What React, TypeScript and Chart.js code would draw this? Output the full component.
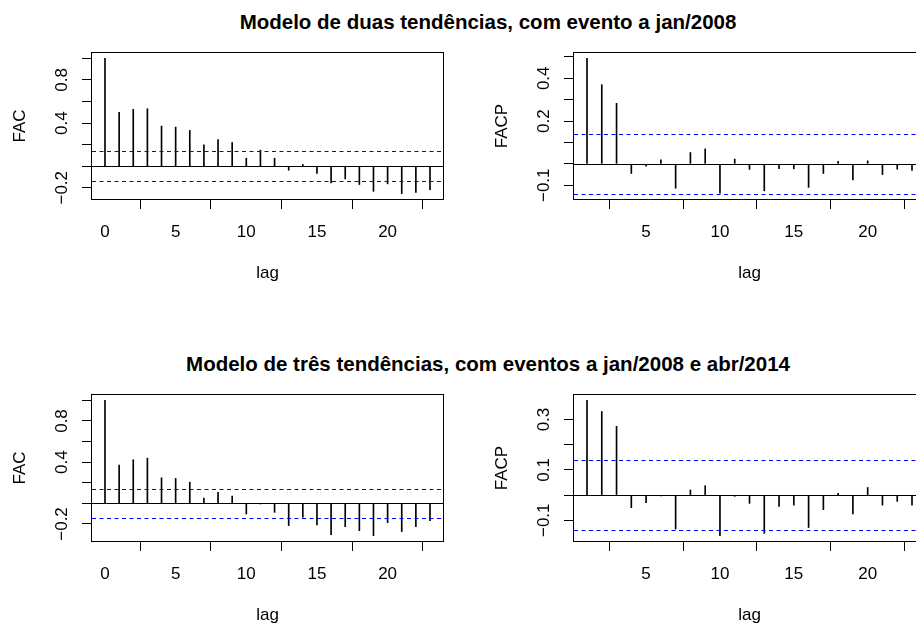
import React, { useEffect, useRef } from 'react';
import { Chart, registerables } from 'chart.js';

Chart.register(...registerables);

// ---------------- data ----------------
const lagsACF = [0, 1, 2, 3, 4, 5, 6, 7, 8, 9, 10, 11, 12, 13, 14, 15, 16, 17, 18, 19, 20, 21, 22, 23];
const lagsPACF = [1, 2, 3, 4, 5, 6, 7, 8, 9, 10, 11, 12, 13, 14, 15, 16, 17, 18, 19, 20, 21, 22, 23];

const acfDuas = [1.0, 0.5, 0.527, 0.533, 0.372, 0.363, 0.332, 0.198, 0.248, 0.22, 0.074, 0.149, 0.074, -0.037, 0.016, -0.068, -0.155, -0.118, -0.17, -0.233, -0.164, -0.254, -0.242, -0.217];
const pacfDuas = [0.493, 0.37, 0.283, -0.045, -0.011, 0.019, -0.114, 0.053, 0.07, -0.137, 0.022, -0.026, -0.126, -0.023, -0.023, -0.11, -0.045, 0.012, -0.075, 0.014, -0.05, -0.025, -0.031];
const acfTres = [1.0, 0.371, 0.423, 0.439, 0.248, 0.242, 0.206, 0.052, 0.106, 0.071, -0.103, -0.006, -0.087, -0.216, -0.135, -0.21, -0.303, -0.226, -0.265, -0.313, -0.187, -0.274, -0.226, -0.168];
const pacfTres = [0.376, 0.332, 0.273, -0.05, -0.03, -0.003, -0.135, 0.02, 0.037, -0.161, -0.005, -0.033, -0.152, -0.045, -0.04, -0.129, -0.058, 0.007, -0.075, 0.03, -0.04, -0.025, -0.04];

const ciDuas = 0.139;
const ciTres = 0.139;

const xTicksACF = [0, 5, 10, 15, 20];
const xTicksPACF = [5, 10, 15, 20];

const yTicksACF = [-0.2, 0, 0.2, 0.4, 0.6, 0.8, 1.0];
const yLabelsACF = ['\u22120.2', '', '', '0.4', '', '0.8', ''];
const yTicksPACFDuas = [-0.1, 0, 0.1, 0.2, 0.3, 0.4, 0.5];
const yLabelsPACFDuas = ['\u22120.1', '', '', '0.2', '', '0.4', ''];
const yTicksPACFTres = [-0.1, 0, 0.1, 0.2, 0.3];
const yLabelsPACFTres = ['\u22120.1', '', '0.1', '', '0.3'];

const titleDuas = 'Modelo de duas tendências, com evento a jan/2008';
const titleTres = 'Modelo de três tendências, com eventos a jan/2008 e abr/2014';
const xTitle = 'lag';
const yTitleACF = 'FAC';
const yTitlePACF = 'FACP';

// ---------------- layout ----------------
const FONT = "'Liberation Sans', Arial, Helvetica, sans-serif";
const CW = 458;
const CH = 312;
const PAD_TOP = 53;
const PAD_RIGHT = 15;
const Y_AXIS_W = 92;
const X_AXIS_H = 113;

type PanelProps = {
  lags: number[];
  values: number[];
  ci: number;
  xTicks: number[];
  yTicks: number[];
  yLabels: string[];
  yTitle: string;
  left: number;
  top: number;
};

function Panel(props: PanelProps) {
  const ref = useRef<HTMLCanvasElement | null>(null);
  useEffect(() => {
    const canvas = ref.current;
    if (!canvas) return;
    const { lags, values, ci, xTicks, yTicks, yLabels, yTitle } = props;
    const lo = Math.min(...values, -ci);
    const hi = Math.max(...values, ci);
    const yPad = 0.04 * (hi - lo);
    const xlo = Math.min(...lags);
    const xhi = Math.max(...lags);
    const xPad = 0.04 * (xhi - xlo);

    const rPlugin = {
      id: 'rstyle',
      afterDatasetsDraw(chart: any) {
        const { ctx, chartArea } = chart;
        const { left, right, top, bottom } = chartArea;
        const ys = chart.scales.y;
        ctx.save();
        ctx.beginPath();
        ctx.rect(left, top, right - left, bottom - top);
        ctx.clip();
        // zero line
        ctx.strokeStyle = '#000';
        ctx.lineWidth = 1;
        const y0 = Math.round(ys.getPixelForValue(0)) + 0.5;
        ctx.beginPath();
        ctx.moveTo(left, y0);
        ctx.lineTo(right, y0);
        ctx.stroke();
        // confidence lines
        ctx.strokeStyle = '#0000ff';
        ctx.setLineDash([4, 3.5]);
        [ci, -ci].forEach((v) => {
          const yy = Math.round(ys.getPixelForValue(v)) + 0.5;
          ctx.beginPath();
          ctx.moveTo(left, yy);
          ctx.lineTo(right, yy);
          ctx.stroke();
        });
        ctx.restore();
      },
      afterDraw(chart: any) {
        const { ctx, chartArea } = chart;
        const { left, right, top, bottom } = chartArea;
        const ys = chart.scales.y;
        ctx.save();
        ctx.strokeStyle = '#000';
        ctx.lineWidth = 1;
        ctx.strokeRect(left - 0.5, top - 0.5, right - left + 1, bottom - top + 1);
        ctx.fillStyle = '#000';
        ctx.font = `17px ${FONT}`;
        ctx.textAlign = 'center';
        ctx.textBaseline = 'alphabetic';
        yTicks.forEach((t, i) => {
          const lab = yLabels[i];
          if (!lab) return;
          const py = ys.getPixelForValue(t);
          ctx.save();
          ctx.translate(left - 25, py);
          ctx.rotate(-Math.PI / 2);
          ctx.fillText(lab, 0, 0);
          ctx.restore();
        });
        ctx.restore();
      },
    };

    const chart = new Chart(canvas, {
      type: 'bar',
      data: {
        datasets: [
          {
            data: lags.map((l, i) => ({ x: l, y: values[i] })),
            backgroundColor: '#000',
            borderWidth: 0,
            barThickness: 1,
          } as any,
        ],
      },
      options: {
        responsive: false,
        animation: false,
        devicePixelRatio: 1,
        layout: { padding: { left: 0, top: PAD_TOP, right: PAD_RIGHT, bottom: 0 } },
        plugins: { legend: { display: false }, tooltip: { enabled: false }, title: { display: false } },
        scales: {
          x: {
            type: 'linear',
            min: xlo - xPad,
            max: xhi + xPad,
            offset: false,
            afterBuildTicks: (s: any) => {
              s.ticks = xTicks.map((v) => ({ value: v }));
            },
            afterFit: (s: any) => {
              s.height = X_AXIS_H;
            },
            grid: { display: true, drawOnChartArea: false, drawTicks: true, tickLength: 10, color: '#000', lineWidth: 1 },
            border: { display: false },
            ticks: {
              color: '#000',
              font: { family: FONT, size: 17 },
              padding: 13,
              maxRotation: 0,
              autoSkip: false,
              callback: (v: any) => String(v),
            },
            title: {
              display: true,
              text: xTitle,
              color: '#000',
              font: { family: FONT, size: 17 },
              padding: { top: 0, bottom: 28 },
            },
          },
          y: {
            type: 'linear',
            min: lo - yPad,
            max: hi + yPad,
            afterBuildTicks: (s: any) => {
              s.ticks = yTicks.map((v) => ({ value: v }));
            },
            afterFit: (s: any) => {
              s.width = Y_AXIS_W;
            },
            grid: { display: true, drawOnChartArea: false, drawTicks: true, tickLength: 10, color: '#000', lineWidth: 1 },
            border: { display: false },
            ticks: { display: false },
            title: {
              display: true,
              text: yTitle,
              color: '#000',
              font: { family: FONT, size: 17 },
              padding: { top: 10, bottom: 0 },
            },
          },
        },
      } as any,
      plugins: [rPlugin],
    });
    return () => chart.destroy();
  }, []);

  return (
    <canvas
      ref={ref}
      width={CW}
      height={CH}
      style={{ position: 'absolute', left: props.left, top: props.top, width: CW, height: CH }}
    />
  );
}

const titleStyle = (top: number): React.CSSProperties => ({
  position: 'absolute',
  left: 0,
  top,
  width: 976,
  textAlign: 'center',
  fontFamily: FONT,
  fontWeight: 'bold',
  fontSize: '20.5px',
  lineHeight: '20.5px',
  color: '#000',
  whiteSpace: 'nowrap',
});

export default function App() {
  return (
    <div
      style={{
        position: 'fixed',
        left: 0,
        top: 0,
        width: 916,
        height: 623,
        overflow: 'hidden',
        background: '#fff',
      }}
    >
      <div style={titleStyle(12)}>{titleDuas}</div>
      <div style={titleStyle(354)}>{titleTres}</div>
      <Panel lags={lagsACF} values={acfDuas} ci={ciDuas} xTicks={xTicksACF} yTicks={yTicksACF} yLabels={yLabelsACF} yTitle={yTitleACF} left={0} top={0} />
      <Panel lags={lagsPACF} values={pacfDuas} ci={ciDuas} xTicks={xTicksPACF} yTicks={yTicksPACFDuas} yLabels={yLabelsPACFDuas} yTitle={yTitlePACF} left={482} top={0} />
      <Panel lags={lagsACF} values={acfTres} ci={ciTres} xTicks={xTicksACF} yTicks={yTicksACF} yLabels={yLabelsACF} yTitle={yTitleACF} left={0} top={342} />
      <Panel lags={lagsPACF} values={pacfTres} ci={ciTres} xTicks={xTicksPACF} yTicks={yTicksPACFTres} yLabels={yLabelsPACFTres} yTitle={yTitlePACF} left={482} top={342} />
    </div>
  );
}
